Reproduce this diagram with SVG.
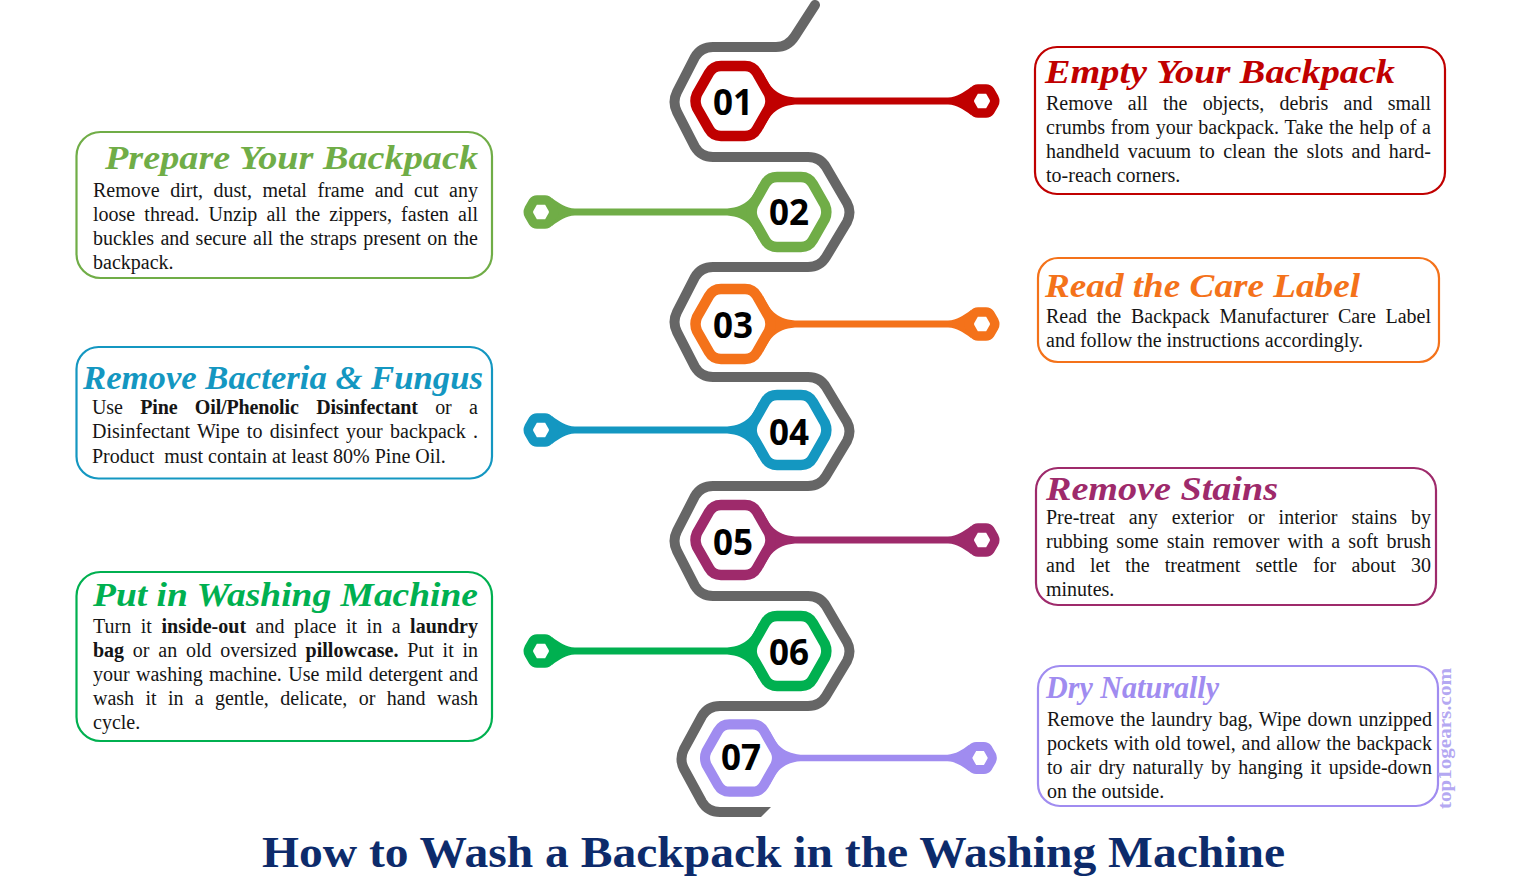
<svg xmlns="http://www.w3.org/2000/svg" width="1536" height="877" viewBox="0 0 1536 877">
<style>
.box{fill:#fff;stroke-width:2.2}
.t{font-family:"Liberation Serif",serif;font-weight:700;font-style:italic;font-size:33px}
.b{font-family:"Liberation Serif",serif;font-size:20px;fill:#151515}
.b tspan{font-weight:700}
.n{font-family:"Open Sans",sans-serif;font-weight:700;font-size:35px;fill:#000;text-anchor:middle}
.hx{fill:#fff;stroke-width:10.5;stroke:currentColor}
.sm{fill:#fff;stroke-width:9.5;stroke:currentColor}
.tl{fill:currentColor}
</style>
<defs>
<path id="hex" d="M-36,-7 L-24,-28 Q-20,-35 -12,-35 L12,-35 Q20,-35 24,-28 L36,-7 Q39,0 36,7 L24,28 Q20,35 12,35 L-12,35 Q-20,35 -24,28 L-36,7 Q-39,0 -36,-7Z"/>
<path id="hexs" d="M-12,-3 L-8,-10 Q-6.5,-12 -4,-12 L4,-12 Q6.5,-12 8,-10 L12,-3 Q13.5,0 12,3 L8,10 Q6.5,12 4,12 L-4,12 Q-6.5,12 -8,10 L-12,3 Q-13.5,0 -12,-3Z"/>
<path id="tail" d="M30,-28 C36,-16 42,-5 62,-3.5 L215,-3.5 C224,-4 230,-8 238,-14 L238,14 C230,8 224,4 215,3.5 L62,3.5 C42,5 36,16 30,28Z"/>
<g id="pinR"><use href="#tail" class="tl"/><use href="#hex" class="hx"/><use href="#hexs" x="249" class="sm"/></g>
</defs>
<rect width="1536" height="877" fill="#fff"/>
<g id="connectors">
<path id="spine" fill="none" stroke="#666" stroke-width="10" stroke-linecap="round" d="M815,5 L795,36 Q788,47 776,47 L713,47 Q701,47 695,57 L677,92 Q672,102 677,112 L695,147 Q701,157 713,157 L808,157 Q820,157 826,167 L847,203 Q852,212 847,222 L826,257 Q820,267 808,267 L713,267 Q701,267 695,277 L677,312 Q672,322 677,332 L695,367 Q701,377 713,377 L808,377 Q820,377 826,387 L847,422 Q852,431 847,441 L826,476 Q820,486 808,486 L713,486 Q701,486 695,496 L677,531 Q672,541 677,551 L695,586 Q701,596 713,596 L808,596 Q820,596 826,606 L847,642 Q852,651 847,661 L826,696 Q820,706 808,706 L720,706 Q708,706 702,716 L684,749 Q679,759 684,769 L702,802 Q708,812 720,812"/>
<polygon points="720,807 771,807 761,817 720,817" fill="#666"/>
</g>
<g id="n01" color="#c00000" transform="translate(733,101)"><use href="#pinR"/><text class="n" y="14">01</text></g>
<g id="n02" color="#70ad47" transform="translate(789,212)"><use href="#pinR" transform="scale(-.996,1)"/><text class="n" y="13">02</text></g>
<g id="n03" color="#f4721a" transform="translate(733,324)"><use href="#pinR"/><text class="n" y="13.5">03</text></g>
<g id="n04" color="#1497c1" transform="translate(789,430)"><use href="#pinR" transform="scale(-.996,1)"/><text class="n" y="15">04</text></g>
<g id="n05" color="#9e2a6b" transform="translate(733,540)"><use href="#pinR"/><text class="n" y="15">05</text></g>
<g id="n06" color="#00b050" transform="translate(789,651)"><use href="#pinR" transform="scale(-.996,1)"/><text class="n" y="14">06</text></g>
<g id="n07" color="#a08cf0" transform="translate(741,758)"><use href="#pinR" transform="scale(.96)"/><text class="n" y="11.5">07</text></g>

<g id="card-empty"><rect class="box" x="1035" y="47" width="410" height="147" rx="22" stroke="#c00000"/>
<text class="t" x="1045" y="83" fill="#c00000" textLength="350" lengthAdjust="spacingAndGlyphs">Empty Your Backpack</text>
<text class="b" x="1046" y="110" word-spacing="10.19" textLength="385">Remove all the objects, debris and small</text>
<text class="b" x="1046" y="134" word-spacing=".71" textLength="385">crumbs from your backpack. Take the help of a</text>
<text class="b" x="1046" y="158" word-spacing="3.34" textLength="385">handheld vacuum to clean the slots and hard-</text>
<text class="b" x="1046" y="182">to-reach corners.</text></g>

<g id="card-care"><rect class="box" x="1038" y="258" width="401" height="104" rx="20" stroke="#f4721a"/>
<text class="t" x="1045" y="297" fill="#f4721a" textLength="315" lengthAdjust="spacingAndGlyphs">Read the Care Label</text>
<text class="b" x="1046" y="323" word-spacing="4.69" textLength="385">Read the Backpack Manufacturer Care Label</text>
<text class="b" x="1046" y="347">and follow the instructions accordingly.</text></g>

<g id="card-stains"><rect class="box" x="1036" y="468" width="400" height="137" rx="22" stroke="#9e2a6b"/>
<text class="t" x="1046" y="500" fill="#9e2a6b" textLength="232" lengthAdjust="spacingAndGlyphs">Remove Stains</text>
<text class="b" x="1046" y="524" word-spacing="8.99" textLength="385">Pre-treat any exterior or interior stains by</text>
<text class="b" x="1046" y="548" word-spacing="3.18" textLength="385">rubbing some stain remover with a soft brush</text>
<text class="b" x="1046" y="572" word-spacing="10.17" textLength="385">and let the treatment settle for about 30</text>
<text class="b" x="1046" y="596">minutes.</text></g>

<g id="card-dry"><rect class="box" x="1038" y="666" width="400" height="140" rx="22" stroke="#a08cf0"/>
<text class="t" x="1046" y="698" fill="#a08cf0" style="font-size:31px" textLength="173" lengthAdjust="spacingAndGlyphs">Dry Naturally</text>
<text class="b" x="1047" y="726" word-spacing="1.31" textLength="385">Remove the laundry bag, Wipe down unzipped</text>
<text class="b" x="1047" y="750" word-spacing=".72" textLength="385">pockets with old towel, and allow the backpack</text>
<text class="b" x="1047" y="774" word-spacing="2.39" textLength="385">to air dry naturally by hanging it upside-down</text>
<text class="b" x="1047" y="798">on the outside.</text></g>

<g id="card-prepare"><rect class="box" x="76.500" y="132" width="415.500" height="146" rx="24" stroke="#70ad47"/>
<text class="t" x="105" y="169" fill="#70ad47" textLength="373" lengthAdjust="spacingAndGlyphs">Prepare Your Backpack</text>
<text class="b" x="93" y="197" word-spacing="5.56" textLength="385">Remove dirt, dust, metal frame and cut any</text>
<text class="b" x="93" y="221" word-spacing="4.14" textLength="385">loose thread. Unzip all the zippers, fasten all</text>
<text class="b" x="93" y="245" word-spacing="1.33" textLength="385">buckles and secure all the straps present on the</text>
<text class="b" x="93" y="269">backpack.</text></g>

<g id="card-bacteria"><rect class="box" x="76.500" y="347" width="415.500" height="131.500" rx="22" stroke="#1497c1"/>
<text class="t" x="83" y="389" fill="#1497c1" textLength="400" lengthAdjust="spacingAndGlyphs">Remove Bacteria &amp; Fungus</text>
<text class="b" x="92" y="414" word-spacing="12.63" textLength="386">Use <tspan>Pine Oil/Phenolic Disinfectant</tspan> or a</text>
<text class="b" x="92" y="438" word-spacing="2.22" textLength="386">Disinfectant Wipe to disinfect your backpack .</text>
<text class="b" x="92" y="463">Product&#160; must contain at least 80% Pine Oil.</text></g>

<g id="card-machine"><rect class="box" x="76.500" y="572" width="415.500" height="169" rx="24" stroke="#00b050"/>
<text class="t" x="93" y="606" fill="#00b050" textLength="385" lengthAdjust="spacingAndGlyphs">Put in Washing Machine</text>
<text class="b" x="93" y="633" word-spacing="4.51" textLength="385">Turn it <tspan>inside-out</tspan> and place it in a <tspan>laundry</tspan></text>
<text class="b" x="93" y="657" word-spacing="3.75" textLength="385"><tspan>bag</tspan> or an old oversized <tspan>pillowcase.</tspan> Put it in</text>
<text class="b" x="93" y="681" word-spacing="1.31" textLength="385">your washing machine. Use mild detergent and</text>
<text class="b" x="93" y="705" word-spacing="6.33" textLength="385">wash it in a gentle, delicate, or hand wash</text>
<text class="b" x="93" y="729">cycle.</text></g>

<text id="watermark" transform="translate(1451,809) rotate(-90)" font-family="'Liberation Serif',serif" font-weight="700" font-size="18" fill="#b4a8f2" textLength="141" lengthAdjust="spacingAndGlyphs">top1ogears.com</text>
<text id="title" x="262" y="867" font-family="'Liberation Serif',serif" font-weight="700" font-size="44" fill="#0d2b6b" textLength="1023" lengthAdjust="spacingAndGlyphs">How to Wash a Backpack in the Washing Machine</text>
</svg>
